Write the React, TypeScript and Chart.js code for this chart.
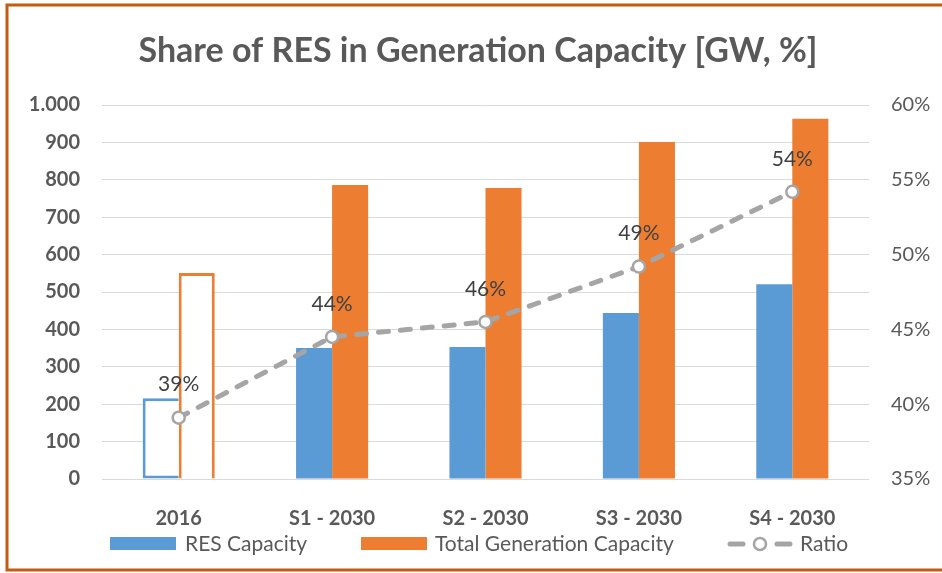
import React, { useEffect, useRef } from "react";
import { Chart, registerables } from "chart.js";

Chart.register(...registerables);

const categories = ["2016", "S1 - 2030", "S2 - 2030", "S3 - 2030", "S4 - 2030"];
const resCapacity = [216, 350, 353, 444, 521];
const totalCapacity = [551, 786, 778, 901, 963];
const ratio = [0.391, 0.445, 0.455, 0.492, 0.542];
const ratioLabels = ["39%", "44%", "46%", "49%", "54%"];
const leftTicks = [0, 100, 200, 300, 400, 500, 600, 700, 800, 900, 1000];

const TITLE = "Share of RES in Generation Capacity [GW, %]";
const BLUE = "#5B9BD5";
const ORANGE = "#ED7D31";
const GRAY = "#A5A5A5";
const TEXT = "#595959";
const FONT = "Lato";

const framePlugin = {
  id: "frame",
  beforeDraw(chart: any) {
    const ctx = chart.ctx;
    ctx.save();
    ctx.fillStyle = "#ffffff";
    ctx.fillRect(0, 0, chart.width, chart.height);
    ctx.restore();
  },
  afterDraw(chart: any) {
    const ctx = chart.ctx;
    ctx.save();
    ctx.strokeStyle = "#C55A11";
    ctx.lineWidth = 3;
    ctx.strokeRect(7, 5, 1000, 565);
    // title
    ctx.fillStyle = TEXT;
    ctx.font = `bold 34px ${FONT}`;
    ctx.textAlign = "center";
    ctx.textBaseline = "middle";
    ctx.fillText(TITLE, 478, 51);
    // legend
    ctx.font = `21px ${FONT}`;
    ctx.textAlign = "left";
    const ly = 544;
    ctx.fillStyle = BLUE;
    ctx.fillRect(110, ly - 7, 66, 13);
    ctx.fillStyle = TEXT;
    ctx.fillText("RES Capacity", 185, ly);
    ctx.fillStyle = ORANGE;
    ctx.fillRect(361, ly - 7, 66, 13);
    ctx.fillStyle = TEXT;
    ctx.fillText("Total Generation Capacity", 435, ly);
    ctx.strokeStyle = GRAY;
    ctx.lineWidth = 5;
    ctx.lineCap = "round";
    ctx.beginPath();
    ctx.moveTo(730, ly);
    ctx.lineTo(743, ly);
    ctx.moveTo(777, ly);
    ctx.lineTo(790, ly);
    ctx.stroke();
    ctx.beginPath();
    ctx.lineWidth = 2.5;
    ctx.fillStyle = "#ffffff";
    ctx.arc(760, ly, 6, 0, Math.PI * 2);
    ctx.fill();
    ctx.stroke();
    ctx.fillStyle = TEXT;
    ctx.fillText("Ratio", 800, ly);
    ctx.restore();
  },
};

const labelPlugin = {
  id: "ratioLabels",
  afterDatasetsDraw(chart: any) {
    const meta = chart.getDatasetMeta(2);
    const ctx = chart.ctx;
    ctx.save();
    ctx.fillStyle = "#404040";
    ctx.font = `21px ${FONT}`;
    ctx.textAlign = "center";
    ctx.textBaseline = "middle";
    meta.data.forEach((pt: any, i: number) => {
      ctx.fillText(ratioLabels[i], pt.x, pt.y - 33);
    });
    ctx.restore();
  },
};

export default function App() {
  const ref = useRef<HTMLCanvasElement>(null);
  useEffect(() => {
    document.body.style.margin = "0";
    const chart = new Chart(ref.current as HTMLCanvasElement, {
      type: "bar",
      data: {
        labels: categories,
        datasets: [
          {
            type: "bar",
            label: "RES Capacity",
            data: resCapacity,
            backgroundColor: resCapacity.map((_, i) => (i === 0 ? "#ffffff" : BLUE)),
            borderColor: BLUE,
            borderWidth: resCapacity.map((_, i) => (i === 0 ? 3 : 0)),
            borderSkipped: "right",
            yAxisID: "y",
            order: 1,
            categoryPercentage: 0.47,
            barPercentage: 1,
          } as any,
          {
            type: "bar",
            label: "Total Generation Capacity",
            data: totalCapacity,
            backgroundColor: totalCapacity.map((_, i) => (i === 0 ? "#ffffff" : ORANGE)),
            borderColor: ORANGE,
            borderWidth: totalCapacity.map((_, i) => (i === 0 ? 3 : 0)),
            yAxisID: "y",
            order: 1,
            categoryPercentage: 0.47,
            barPercentage: 1,
          } as any,
          {
            type: "line",
            label: "Ratio",
            data: ratio,
            borderColor: GRAY,
            borderWidth: 5,
            borderDash: [10, 12],
            borderCapStyle: "round",
            pointRadius: 6,
            pointBorderWidth: 2.5,
            pointBackgroundColor: "#ffffff",
            pointBorderColor: GRAY,
            yAxisID: "y1",
            order: 0,
          } as any,
        ],
      },
      options: {
        responsive: false,
        animation: false,
        layout: { padding: { top: 105, left: 0, right: 0, bottom: 0 } },
        plugins: {
          legend: { display: false },
          title: { display: false },
          tooltip: { enabled: false },
        },
        scales: {
          x: {
            grid: { display: false },
            border: { display: false },
            ticks: {
              color: TEXT,
              font: { family: FONT, size: 20, weight: "bold" },
              padding: 20,
            },
            afterFit(scale: any) {
              scale.height = 94;
            },
          },
          y: {
            position: "left",
            min: 0,
            max: 1000,
            afterBuildTicks(scale: any) {
              scale.ticks = leftTicks.map((v) => ({ value: v }));
            },
            grid: { color: "#D9D9D9", lineWidth: 1, drawTicks: false },
            border: { display: false },
            ticks: {
              color: TEXT,
              font: { family: FONT, size: 20, weight: "bold" },
              padding: 22,
              callback: (v: any) => Number(v).toLocaleString("de-DE"),
            },
            afterFit(scale: any) {
              scale.width = 102;
            },
          },
          y1: {
            position: "right",
            min: 0.35,
            max: 0.6,
            grid: { display: false, drawTicks: false },
            border: { display: false },
            ticks: {
              stepSize: 0.05,
              color: TEXT,
              font: { family: FONT, size: 20 },
              padding: 22,
              callback: (v: any) => Math.round(Number(v) * 100) + "%",
            },
            afterFit(scale: any) {
              scale.width = 73;
            },
          },
        },
      } as any,
      plugins: [framePlugin, labelPlugin],
    });
    return () => chart.destroy();
  }, []);
  return (
    <div style={{ width: 942, height: 573 }}>
      <canvas ref={ref} width={942} height={573} style={{ width: 942, height: 573, display: "block" }} />
    </div>
  );
}
